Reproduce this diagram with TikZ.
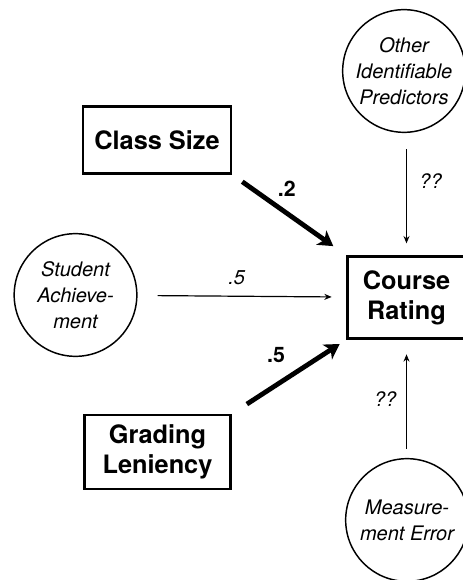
\documentclass[tikz,border=0pt]{standalone}
\usepackage{fontspec}
\setmainfont{TeX Gyre Heros}
\usepackage{tikz}
\usetikzlibrary{arrows.meta, positioning}

\begin{document}
\begin{tikzpicture}[
  x=0.75pt, y=-0.75pt,
  obs/.style={rectangle, draw=black, line width=2.2pt, align=center,
              font=\bfseries\fontsize{19}{22.5}\selectfont, inner sep=0pt},
  lat/.style={circle, draw=black, line width=1.1pt, minimum size=92pt, inner sep=0pt,
              align=center, font=\itshape\fontsize{15}{19.5}\selectfont},
  big/.style={-{Stealth[length=11pt, width=13pt, inset=3pt]}, line width=3.6pt},
  thin/.style={-{Stealth[length=5.5pt, width=4.5pt]}, line width=0.9pt},
  wbold/.style={font=\bfseries\fontsize{16}{18}\selectfont},
  wital/.style={font=\itshape\fontsize{15}{17}\selectfont}
]
\useasboundingbox (0,0) rectangle (462,580);

\node[obs, minimum width=111pt, minimum height=50pt] (size) at (157,140) {Class Size};
\node[obs, minimum width=110pt, minimum height=55.5pt] (lenient) at (157.5,452) {Grading\\Leniency};
\node[obs, minimum width=88pt, minimum height=61pt] (rating) at (406.5,297.5) {Course\\Rating};
\node[lat] (achieve) at (75.5,295) {Student\\Achieve-\\ment};
\node[lat] (other) at (404,71) {Other\\Identifiable\\Predictors};
\node[lat] (error) at (407,520) {Measure-\\ment Error};

\draw[big, shorten <=9pt, shorten >=12pt] (size.south east) -- (rating.north west)
  node[wbold, midway, yshift=20pt, xshift=-2pt] {.2};
\draw[big, shorten <=13pt, shorten >=6pt] (lenient.north east) -- (rating.south west)
  node[wbold, midway, yshift=16pt, xshift=-10pt] {.5};
\draw[thin, shorten <=15pt, shorten >=11pt] (achieve) -- (rating)
  node[wital, midway, yshift=14pt, xshift=-4pt] {.5};
\draw[thin, shorten <=12pt, shorten >=9pt] (other.south -| rating) -- (rating)
  node[wital, midway, yshift=10pt, xshift=18pt] {??};
\draw[thin, shorten <=7pt, shorten >=11pt] (error.north -| rating) -- (rating)
  node[wital, midway, xshift=-16pt] {??};
\end{tikzpicture}
\end{document}
